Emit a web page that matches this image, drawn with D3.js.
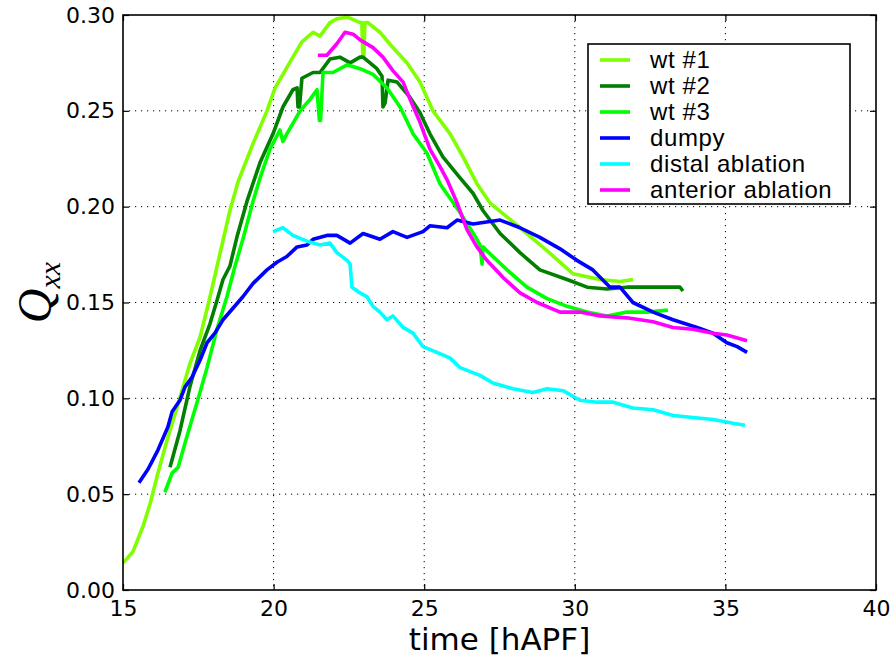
<!DOCTYPE html>
<html>
<head>
<meta charset="utf-8">
<script src="https://cdn.jsdelivr.net/npm/d3@7"></script>
<style>
  body { margin: 0; background: #fff; }
  svg { display: block; }
</style>
</head>
<body>
<div id="chart-container"></div>
<script>
// Q_xx over time for wild type, dumpy and ablation wings
const labels = ["wt #1", "wt #2", "wt #3", "dumpy", "distal ablation", "anterior ablation"];
const colors = ["#7fff00", "#007f00", "#00ff00", "#0000ff", "#00ffff", "#ff00ff"];
const xTicks = [15, 20, 25, 30, 35, 40];
const yTicks = [0, 0.05, 0.10, 0.15, 0.20, 0.25, 0.30];

// [time, Qxx]
const wt1 = [[15.00,0.014],[15.33,0.020],[15.66,0.033],[15.90,0.045],[16.16,0.061],[16.46,0.078],[16.79,0.095],
  [17.22,0.118],[17.56,0.132],[17.89,0.153],[18.55,0.198],[18.82,0.213],[19.32,0.233],[19.78,0.250],[20.05,0.262],
  [20.31,0.269],[20.64,0.278],[20.94,0.286],[21.31,0.291],[21.54,0.289],[21.87,0.296],[22.10,0.298],[22.44,0.299],
  [22.87,0.296],[22.93,0.296],[22.96,0.279],[23.00,0.279],[23.03,0.296],[23.13,0.296],[23.53,0.291],[23.96,0.283],
  [24.43,0.275],[24.86,0.265],[25.29,0.250],[25.86,0.238],[26.29,0.226],[26.75,0.212],[27.18,0.202],[28.18,0.189],
  [29.08,0.177],[29.94,0.165],[30.84,0.162],[31.50,0.161],[31.93,0.162]];
const wt2 = [[16.56,0.064],[16.89,0.083],[17.22,0.106],[17.56,0.125],[17.89,0.139],[18.12,0.151],[18.32,0.162],
  [18.55,0.169],[18.78,0.184],[19.12,0.203],[19.55,0.223],[19.98,0.238],[20.31,0.252],[20.64,0.261],[20.78,0.262],
  [20.81,0.252],[20.86,0.252],[20.94,0.267],[21.31,0.270],[21.54,0.270],[21.87,0.277],[22.20,0.278],[22.54,0.275],
  [22.87,0.278],[22.97,0.278],[23.43,0.272],[23.60,0.268],[23.63,0.252],[23.70,0.254],[23.80,0.266],[24.10,0.265],
  [24.53,0.257],[24.86,0.249],[25.19,0.238],[25.62,0.226],[26.19,0.215],[26.62,0.207],[26.95,0.198],[27.52,0.186],
  [28.18,0.176],[28.84,0.167],[29.74,0.162],[30.41,0.158],[31.07,0.157],[31.73,0.158],[32.60,0.158],[33.49,0.158],
  [33.59,0.156]];
const wt3 = [[16.39,0.051],[16.63,0.061],[16.83,0.064],[17.12,0.080],[17.46,0.098],[17.79,0.116],[18.12,0.136],
  [18.45,0.153],[18.72,0.169],[18.98,0.183],[19.32,0.203],[19.55,0.215],[19.88,0.230],[20.21,0.240],[20.31,0.234],
  [20.44,0.238],[20.88,0.250],[21.21,0.256],[21.44,0.261],[21.52,0.245],[21.56,0.245],[21.64,0.270],[21.97,0.270],
  [22.44,0.274],[22.87,0.272],[23.30,0.269],[23.76,0.262],[24.20,0.252],[24.63,0.238],[25.09,0.228],[25.52,0.212],
  [26.19,0.197],[26.75,0.183],[26.85,0.180],[26.92,0.170],[26.96,0.179],[27.08,0.177],[27.75,0.167],[28.41,0.158],
  [29.08,0.152],[29.74,0.148],[30.41,0.145],[31.07,0.143],[31.73,0.145],[32.40,0.145],[33.09,0.146]];
const dumpy = [[15.53,0.056],[15.83,0.063],[16.16,0.073],[16.49,0.085],[16.63,0.093],[16.89,0.099],[17.06,0.106],
  [17.29,0.111],[17.56,0.120],[17.79,0.129],[18.05,0.134],[18.32,0.141],[18.65,0.147],[18.98,0.153],[19.32,0.160],
  [19.78,0.167],[20.11,0.171],[20.44,0.174],[20.78,0.179],[21.11,0.180],[21.31,0.183],[21.77,0.185],[22.10,0.185],
  [22.54,0.181],[22.97,0.186],[23.53,0.183],[23.96,0.187],[24.43,0.184],[24.96,0.187],[25.19,0.190],[25.76,0.189],
  [26.09,0.193],[26.62,0.191],[27.52,0.193],[28.18,0.189],[28.84,0.184],[29.51,0.178],[30.07,0.172],[30.60,0.167],
  [31.17,0.158],[31.50,0.158],[31.93,0.150],[32.60,0.145],[33.26,0.141],[34.06,0.137],[34.59,0.134],[35.05,0.129],
  [35.39,0.127],[35.72,0.124]];
const distal = [[19.98,0.187],[20.31,0.189],[20.64,0.185],[21.11,0.182],[21.54,0.180],[21.87,0.181],[22.10,0.176],
  [22.44,0.172],[22.54,0.170],[22.60,0.158],[22.87,0.155],[23.10,0.153],[23.30,0.148],[23.53,0.145],[23.76,0.141],
  [23.96,0.143],[24.30,0.137],[24.63,0.134],[24.96,0.127],[25.42,0.124],[25.86,0.121],[26.19,0.116],[26.85,0.112],
  [27.28,0.108],[27.95,0.105],[28.61,0.103],[29.08,0.105],[29.61,0.104],[30.17,0.099],[30.74,0.098],[31.27,0.098],
  [31.93,0.095],[32.60,0.094],[33.26,0.091],[33.92,0.090],[34.59,0.089],[35.25,0.087],[35.65,0.086]];
const anterior = [[21.47,0.279],[21.77,0.279],[22.10,0.285],[22.37,0.291],[22.64,0.290],[22.87,0.287],[23.30,0.283],
  [23.63,0.278],[23.96,0.271],[24.30,0.265],[24.53,0.256],[24.86,0.244],[25.19,0.230],[25.52,0.221],[25.76,0.214],
  [26.09,0.202],[26.42,0.188],[26.75,0.179],[27.08,0.172],[27.62,0.163],[28.18,0.155],[28.75,0.150],[29.51,0.145],
  [30.17,0.145],[30.84,0.143],[31.73,0.142],[32.60,0.140],[33.26,0.137],[33.92,0.136],[34.59,0.134],[35.05,0.133],
  [35.72,0.130]];

const series = [wt1, wt2, wt3, dumpy, distal, anterior];

const margin = { top: 15, right: 16, bottom: 71, left: 123 },
    width = 892 - margin.left - margin.right,
    height = 661 - margin.top - margin.bottom;

const svg = d3.select("#chart-container").append("svg")
    .attr("width", 892)
    .attr("height", 661)
    .append("g")
    .attr("transform", `translate(${margin.left},${margin.top})`);

const x = d3.scaleLinear().domain([15, 40]).range([0, width]);
const y = d3.scaleLinear().domain([0, 0.30]).range([height, 0]);

// grid
svg.append("g").selectAll("line")
    .data(xTicks.slice(1, -1))
    .enter().append("line")
    .attr("x1", d => x(d)).attr("x2", d => x(d))
    .attr("y1", 0).attr("y2", height)
    .attr("stroke", "#000").attr("stroke-width", 1)
    .attr("stroke-dasharray", "1.2,4.8");

svg.append("g").selectAll("line")
    .data(yTicks.slice(1, -1))
    .enter().append("line")
    .attr("y1", d => y(d)).attr("y2", d => y(d))
    .attr("x1", 0).attr("x2", width)
    .attr("stroke", "#000").attr("stroke-width", 1)
    .attr("stroke-dasharray", "1.2,4.8");

// data lines
const line = d3.line()
    .x(d => x(d[0]))
    .y(d => y(d[1]));

svg.append("defs").append("clipPath")
    .attr("id", "clip")
    .append("rect")
    .attr("width", width)
    .attr("height", height);

series.forEach((s, i) => {
    svg.append("path")
        .datum(s)
        .attr("fill", "none")
        .attr("stroke", colors[i])
        .attr("stroke-width", 3.6)
        .attr("stroke-linejoin", "round")
        .attr("d", line)
        .attr("clip-path", "url(#clip)");
});

// axes with inward ticks on all sides
const tickFont = "DejaVu Sans";
const xAxis = svg.append("g")
    .attr("transform", `translate(0,${height})`)
    .call(d3.axisBottom(x).tickValues(xTicks).tickSize(-6).tickPadding(10).tickFormat(d3.format("d")));
const yAxis = svg.append("g")
    .call(d3.axisLeft(y).tickValues(yTicks).tickSize(-6).tickPadding(8).tickFormat(d3.format(".2f")));
svg.append("g")
    .call(d3.axisTop(x).tickValues(xTicks).tickSize(-6).tickFormat(""));
svg.append("g")
    .attr("transform", `translate(${width},0)`)
    .call(d3.axisRight(y).tickValues(yTicks).tickSize(-6).tickFormat(""));

svg.selectAll(".domain").remove();
svg.selectAll(".tick line").attr("stroke", "#000").attr("stroke-width", 1.2);
svg.selectAll(".tick text")
    .style("font-family", tickFont)
    .style("font-size", "22px")
    .attr("fill", "#000");

svg.append("rect")
    .attr("width", width)
    .attr("height", height)
    .attr("fill", "none")
    .attr("stroke", "#000")
    .attr("stroke-width", 1.6);

// axis labels
svg.append("text")
    .attr("text-anchor", "middle")
    .attr("x", width / 2)
    .attr("y", height + 60)
    .style("font-family", tickFont)
    .style("font-size", "31px")
    .text("time [hAPF]");

const ylab = svg.append("text")
    .attr("text-anchor", "middle")
    .attr("transform", "rotate(-90)")
    .attr("x", -y(0.15) + 10)
    .attr("y", -72)
    .style("font-family", "Liberation Serif")
    .style("font-style", "italic")
    .style("font-size", "48px");
ylab.append("tspan").text("Q");
ylab.append("tspan").attr("dy", 9).style("font-size", "30px").text("xx");

// legend
const legend = svg.append("g")
    .attr("transform", `translate(${588 - margin.left},${44 - margin.top})`);
legend.append("rect")
    .attr("width", 262)
    .attr("height", 160)
    .attr("fill", "#fff")
    .attr("stroke", "#000")
    .attr("stroke-width", 1.6);

labels.forEach((lab, i) => {
    const ly = 16 + i * 26;
    legend.append("line")
        .attr("x1", 12).attr("x2", 42)
        .attr("y1", ly).attr("y2", ly)
        .attr("stroke", colors[i])
        .attr("stroke-width", 3.6);
    legend.append("text")
        .attr("x", 62)
        .attr("y", ly + 8)
        .style("font-family", "Liberation Sans")
        .style("font-size", "24px")
        .style("letter-spacing", "0.6px")
        .text(lab);
});
</script>
</body>
</html>
